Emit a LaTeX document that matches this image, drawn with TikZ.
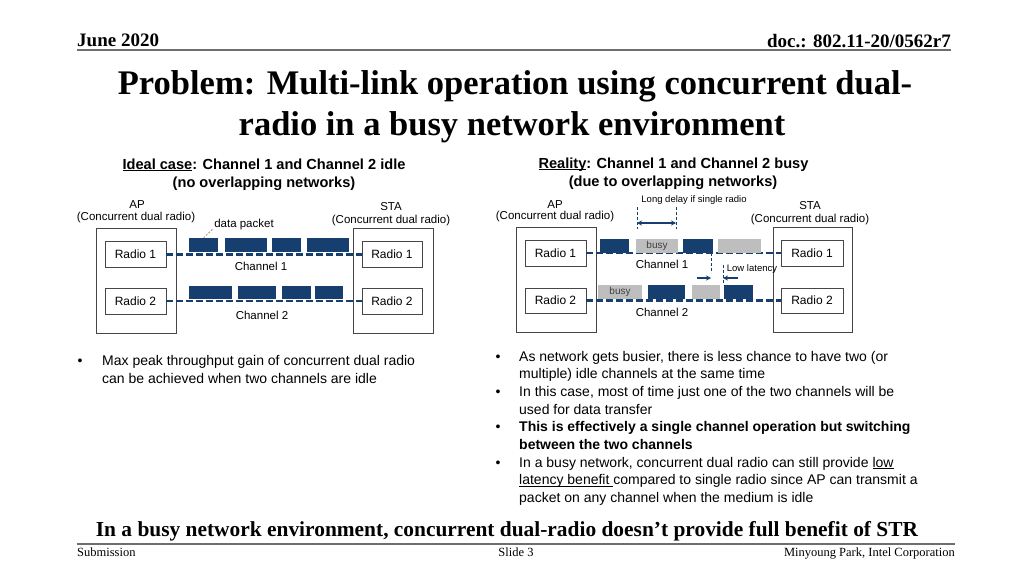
\documentclass[tikz,border=0pt]{standalone}
\usepackage{fontspec}
\setmainfont{Liberation Sans}
\newfontfamily\tnr{Liberation Serif}
\usetikzlibrary{arrows.meta}
\definecolor{navy}{RGB}{22,62,110}
\definecolor{busygrey}{RGB}{190,190,190}
\definecolor{boxgrey}{RGB}{70,70,70}
\definecolor{rulegrey}{RGB}{110,110,110}
\newcommand\myul[1]{\setbox0\hbox{#1}\rlap{\rule[-1.6pt]{\wd0}{0.7pt}}\box0}
\begin{document}
\begin{tikzpicture}[x=1pt,y=-1pt,
  radio/.style={draw=boxgrey,line width=0.8pt,minimum width=61pt,minimum height=26pt,inner sep=0pt,font=\fontsize{12}{14}\selectfont},
  station/.style={draw=boxgrey,line width=0.8pt,minimum width=80pt,minimum height=105pt,inner sep=0pt},
  lbl/.style={font=\fontsize{11.5}{13}\selectfont,inner sep=0pt,anchor=base},
  small/.style={font=\fontsize{9.5}{11}\selectfont,inner sep=0pt,anchor=base},
  head/.style={font=\bfseries\fontsize{14.6}{17}\selectfont,inner sep=0pt,anchor=base},
  body/.style={font=\fontsize{14}{17}\selectfont,inner sep=0pt,anchor=base west},
  bul/.style={font=\fontsize{14}{17}\selectfont,inner sep=0pt,anchor=base},
  chan/.style={navy,line width=2.3pt,dash pattern=on 7pt off 3pt},
  pkt/.style={fill=navy,inner sep=0pt,outer sep=0pt},
  busypkt/.style={fill=busygrey,inner sep=0pt,outer sep=0pt,font=\fontsize{10}{12}\selectfont,text=black!75},
  vmark/.style={navy,line width=0.7pt,dash pattern=on 3pt off 2pt},
  darrow/.style={navy,line width=1.2pt,-{Stealth[length=5pt,width=5pt]}},
  leader/.style={gray,line width=0.6pt,dash pattern=on 2pt off 1.5pt},
  rulel/.style={rulegrey,line width=2pt}
]
\fill[white] (0,0) rectangle (1024,576);
\useasboundingbox (0,0) rectangle (1024,576);

% header
\node[inner sep=0pt,anchor=base west,font=\tnr\bfseries\fontsize{19}{22}\selectfont] (date) at (77,46) {June 2020};
\node[inner sep=0pt,anchor=base east,font=\tnr\bfseries\fontsize{19}{22}\selectfont] (doc) at (951,47) {doc.: 802.11-20/0562r7};
\coordinate (hl) at (77,50);
\coordinate (hr) at (951,50);
\draw[rulel] (hl) -- (hr);

% title
\node[inner sep=0pt,anchor=base,font=\tnr\bfseries\fontsize{34.5}{40}\selectfont] (t1) at (515,94) {Problem: Multi-link operation using concurrent dual-};
\node[inner sep=0pt,anchor=base,font=\tnr\bfseries\fontsize{34.5}{40}\selectfont] (t2) at (512,135) {radio in a busy network environment};

% ---------- left diagram ----------
\node[head] (lh1) at (264,169) {\myul{Ideal case}: Channel 1 and Channel 2 idle};
\node[head] (lh2) at (264,187) {(no overlapping networks)};

\node[lbl] (lap1) at (137,208) {AP};
\node[lbl] (lap2) at (136,220) {(Concurrent dual radio)};
\node[lbl] (lsta1) at (391,210) {STA};
\node[lbl] (lsta2) at (391,223) {(Concurrent dual radio)};

\node[station] (lap) at (136,280.5) {};
\node[station] (lsta) at (393,280.5) {};
\node[radio] (lapr1) at (135.5,254.5) {Radio 1};
\node[radio] (lapr2) at (135.5,301) {Radio 2};
\node[radio,minimum width=60pt] (lstar1) at (392,254.5) {Radio 1};
\node[radio,minimum width=60pt] (lstar2) at (392,301) {Radio 2};

\draw[chan] (lapr1.east) -- (lstar1.west);
\draw[chan] (lapr2.east) -- (lstar2.west);

\foreach \a/\b [count=\i] in {189/218,225/267,272/301,307/349}
  \node[pkt,minimum width={\b-\a},minimum height=14pt] (lc1p\i) at ({(\a+\b)/2},245) {};
\foreach \a/\b [count=\i] in {189/232,238/276,282/311,315/343}
  \node[pkt,minimum width={\b-\a},minimum height=13pt] (lc2p\i) at ({(\a+\b)/2},292.5) {};

\node[lbl] (dp) at (244,227) {data packet};
\draw[leader] (lc1p1.north) -- ([xshift=-1pt,yshift=1pt]dp.south west);

\node[lbl] (lch1) at (261,270) {Channel 1};
\node[lbl] (lch2) at (262,319) {Channel 2};

% ---------- right diagram ----------
\node[head] (rh1) at (673.5,168) {\myul{Reality}: Channel 1 and Channel 2 busy};
\node[head] (rh2) at (673,186) {(due to overlapping networks)};

\node[lbl] (rap1) at (555,208) {AP};
\node[lbl] (rap2) at (555,219) {(Concurrent dual radio)};
\node[lbl] (rsta1) at (810,209) {STA};
\node[lbl] (rsta2) at (810,222) {(Concurrent dual radio)};

\node[station] (rap) at (556,280) {};
\node[station,minimum width=79pt] (rsta) at (812.5,280) {};
\node[radio] (rapr1) at (555.5,253) {Radio 1};
\node[radio,minimum height=25pt] (rapr2) at (555.5,300.5) {Radio 2};
\node[radio,minimum width=62pt] (rstar1) at (812,253) {Radio 1};
\node[radio,minimum width=62pt,minimum height=25pt] (rstar2) at (812,300.5) {Radio 2};

\draw[chan] (rapr1.east) -- (rstar1.west);
\draw[chan] (rapr2.east) -- (rstar2.west);

% channel 1 packets
\node[pkt,minimum width=29pt,minimum height=14pt] (rc1a) at (614.5,246) {};
\node[busypkt,minimum width=42pt,minimum height=14pt] (rc1b) at (657,246) {busy};
\node[pkt,minimum width=30pt,minimum height=14pt] (rc1c) at (698,246) {};
\node[busypkt,minimum width=43pt,minimum height=14pt] (rc1d) at (739.5,246) {};
% channel 2 packets
\node[busypkt,minimum width=44pt,minimum height=14pt] (rc2a) at (620,292) {busy};
\node[pkt,minimum width=37pt,minimum height=14pt] (rc2b) at (666.5,292) {};
\node[busypkt,minimum width=28pt,minimum height=14pt] (rc2c) at (706,292) {};
\node[pkt,minimum width=29pt,minimum height=14pt] (rc2d) at (738.5,292) {};

% long delay
\node[small] (ld) at (694,202) {Long delay if single radio};
\coordinate (ldA) at (637,207);
\coordinate (ldB) at (676,207);
\coordinate (ldA2) at (637,229);
\coordinate (ldB2) at (676,229);
\draw[vmark] (ldA) -- (ldA2);
\draw[vmark] (ldB) -- (ldB2);
\coordinate (ldL) at (637,223);
\coordinate (ldR) at (676,223);
\draw[navy,line width=1.2pt,{Stealth[length=5pt,width=5pt]}-{Stealth[length=5pt,width=5pt]}] (ldL) -- (ldR);

% low latency
\node[small] (ll) at (752,271) {Low latency};
\coordinate (llA) at (711,273);
\draw[vmark] (rc1c.south east -| llA) -- (llA);
\coordinate (llB) at (723,265);
\draw[vmark] (llB) -- (rc2d.north west -| llB);
\coordinate (llA0) at (697,278);
\coordinate (llA1) at (711,278);
\coordinate (llB0) at (738,278);
\coordinate (llB1) at (723,278);
\draw[darrow] (llA0) -- (llA1);
\draw[darrow] (llB0) -- (llB1);

\node[lbl] (rch1) at (662,268) {Channel 1};
\node[lbl] (rch2) at (662,316) {Channel 2};

% ---------- bullets ----------
\node[bul] (lb1) at (80,365) {•};
\node[body] (lt1) at (102,365) {Max peak throughput gain of concurrent dual radio};
\node[body] (lt2) at (102,383) {can be achieved when two channels are idle};

\node[bul] (rb1) at (498,361) {•};
\node[body] (rt1) at (519,361) {As network gets busier, there is less chance to have two (or};
\node[body] (rt2) at (519,378.7) {multiple) idle channels at the same time};
\node[bul] (rb2) at (498,396.4) {•};
\node[body] (rt3) at (519,396.4) {In this case, most of time just one of the two channels will be};
\node[body] (rt4) at (519,414.1) {used for data transfer};
\node[bul] (rb3) at (498,431.8) {•};
\node[body,font=\bfseries\fontsize{14}{17}\selectfont] (rt5) at (519,431.8) {This is effectively a single channel operation but switching};
\node[body,font=\bfseries\fontsize{14}{17}\selectfont] (rt6) at (519,449.5) {between the two channels};
\node[bul] (rb4) at (498,467.2) {•};
\node[body] (rt7) at (519,467.2) {In a busy network, concurrent dual radio can still provide \myul{low}};
\node[body] (rt8) at (519,484.9) {\myul{latency benefit }compared to single radio since AP can transmit a};
\node[body] (rt9) at (519,502.6) {packet on any channel when the medium is idle};

% ---------- conclusion and footer ----------
\node[inner sep=0pt,anchor=base,font=\tnr\bfseries\fontsize{21.4}{25}\selectfont] (concl) at (507,536) {In a busy network environment, concurrent dual-radio doesn’t provide full benefit of STR};
\coordinate (fl) at (77,544);
\coordinate (fr) at (955,544);
\draw[rulel] (fl) -- (fr);
\node[inner sep=0pt,anchor=base west,font=\tnr\fontsize{12.5}{14}\selectfont] (sub) at (77,556) {Submission};
\node[inner sep=0pt,anchor=base,font=\tnr\fontsize{12.5}{14}\selectfont] (slide) at (516,556) {Slide 3};
\node[inner sep=0pt,anchor=base east,font=\tnr\fontsize{12.5}{14}\selectfont] (auth) at (955,556) {Minyoung Park, Intel Corporation};
\end{tikzpicture}
\end{document}
